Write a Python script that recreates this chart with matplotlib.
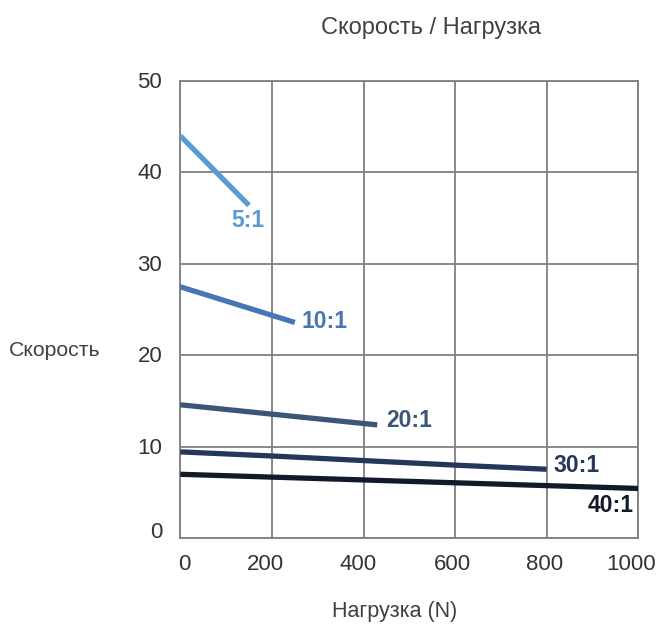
import matplotlib
matplotlib.use("Agg")
import matplotlib.pyplot as plt
from matplotlib.transforms import ScaledTranslation

# Data
series_labels = ["5:1", "10:1", "20:1", "30:1", "40:1"]
series_x = [
    [0, 150],
    [0, 250],
    [0, 430],
    [0, 200, 400, 600, 800],
    [0, 1000],
]
series_y = [
    [44.0, 36.4],
    [27.5, 23.6],
    [14.6, 12.4],
    [9.45, 9.0, 8.5, 8.0, 7.55],
    [7.0, 5.45],
]
label_pos = [(148, 34.8), (314, 23.7), (500, 12.9), (866, 8.0), (940, 3.6)]
colors = ["#5b9bd5", "#4776b4", "#3c5679", "#243659", "#111a2b"]
xticks = [0, 200, 400, 600, 800, 1000]
yticks = [0, 10, 20, 30, 40, 50]

plt.rcParams["font.family"] = ["Liberation Sans", "DejaVu Sans"]

fig = plt.figure(figsize=(6.59, 6.28), dpi=100)
ax = fig.add_axes([180.3 / 659, 1 - 538.3 / 628, (638.3 - 180.3) / 659, (538.3 - 81) / 628])

for xs, ys, c, lab, (lx, ly) in zip(series_x, series_y, colors, series_labels, label_pos):
    ax.plot(xs, ys, color=c, lw=3.8, solid_capstyle="butt", zorder=3)
    ax.text(lx, ly, lab, color=c, fontsize=16.5, fontweight="bold", ha="center", va="center", zorder=4)

ax.set_xlim(0, 1000)
ax.set_ylim(0, 50)
ax.set_xticks(xticks)
ax.set_yticks(yticks)
ax.grid(True, color="#7f7f7f", lw=1.3)
ax.set_axisbelow(True)
for s in ax.spines.values():
    s.set_color("#7f7f7f")
    s.set_linewidth(1.3)
ax.tick_params(length=0, colors="#333333", labelsize=16)
ax.tick_params(axis="x", pad=11)
ax.tick_params(axis="y", pad=13)

# small pixel offsets matching the reference label placement
x_off = [4, -6, -5, -3, -2, -7]
for t, dx in zip(ax.get_xticklabels(), x_off):
    t.set_transform(t.get_transform() + ScaledTranslation(dx / 100, 0, fig.dpi_scale_trans))
y_off = [8, 1, 1, 1, 1, 1]
for t, dy in zip(ax.get_yticklabels(), y_off):
    t.set_transform(t.get_transform() + ScaledTranslation(0, dy / 100, fig.dpi_scale_trans))

fig.text(431 / 659, 1 - 28 / 628, "Скорость / Нагрузка", ha="center", va="center", fontsize=17, color="#404040")
fig.text(395 / 659, 1 - 611 / 628, "Нагрузка (N)", ha="center", va="center", fontsize=15.5, color="#404040")
fig.text(55 / 659, 1 - 350 / 628, "Скорость", ha="center", va="center", fontsize=15.3, color="#404040")

fig.savefig("out.png", dpi=100)
